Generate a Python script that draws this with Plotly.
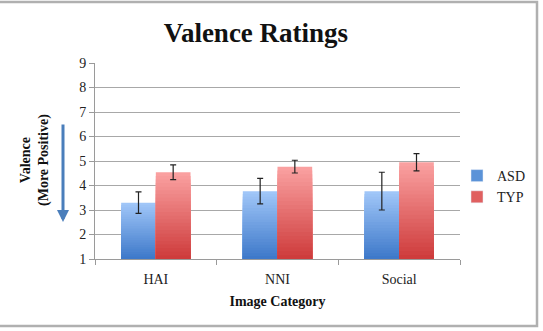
import plotly.graph_objects as go

categories = ["HAI", "NNI", "Social"]
asd_values = [3.30, 3.77, 3.77]
asd_err = [0.44, 0.52, 0.77]
typ_values = [4.54, 4.77, 4.95]
typ_err = [0.30, 0.26, 0.35]
y_ticks = [1, 2, 3, 4, 5, 6, 7, 8, 9]

W, H = 543, 331
L, R, T, B = 95, 460, 63, 259  # plot area pixels


def px_x(p):
    return (p - L) / (R - L)


def px_y(p):
    return (B - p) / (B - T)


def lerp(c1, c2, t):
    return "rgb(%d,%d,%d)" % tuple(round(a + (b - a) * t) for a, b in zip(c1, c2))


BASE = 1
N = 24
series = [
    ("ASD", asd_values, asd_err, (160, 198, 248), (58, 118, 200), "#5b93d8"),
    ("TYP", typ_values, typ_err, (250, 160, 160), (204, 56, 56), "#e06060"),
]

fig = go.Figure()
for name, vals, errs, ctop, cbot, legc in series:
    for i in range(N):
        frac = (N - i) / N
        t = 1 - frac
        fig.add_trace(go.Bar(
            x=categories, y=[(v - BASE) * frac for v in vals], base=BASE,
            offsetgroup=name, marker=dict(color=lerp(ctop, cbot, t), line=dict(width=0)),
            showlegend=False, hoverinfo="skip",
        ))
    fig.add_trace(go.Bar(
        x=categories, y=[v - BASE for v in vals], base=BASE, offsetgroup=name,
        name=name, marker=dict(color="rgba(0,0,0,0)", line=dict(width=0)),
        error_y=dict(type="data", array=errs, color="#222222", thickness=1.2, width=3),
        showlegend=False,
    ))
    fig.add_trace(go.Bar(
        x=[None], y=[None], name=name, marker=dict(color=legc), showlegend=True,
    ))

serif = "Liberation Serif"
fig.update_layout(
    width=W, height=H,
    margin=dict(l=L, r=W - R, t=T, b=H - B, autoexpand=False),
    paper_bgcolor="white", plot_bgcolor="white",
    barmode="group", bargap=0.43, bargroupgap=0,
    font=dict(family=serif, size=13, color="#222222"),
    title=dict(text="<b>Valence Ratings</b>", font=dict(family=serif, size=27, color="#111111"),
               x=256 / W, xanchor="center", y=1 - 33 / H, yanchor="middle", yref="container"),
    legend=dict(x=px_x(457), y=px_y(160), xanchor="left", yanchor="top",
                font=dict(family=serif, size=14, color="#222222"),
                itemwidth=30, tracegroupgap=7, bgcolor="rgba(0,0,0,0)"),
    showlegend=True,
)
fig.update_xaxes(
    showgrid=False, showline=True, linecolor="#9a9a9a", linewidth=1,
    ticks="outside", tickson="boundaries", ticklen=5, tickcolor="#9a9a9a",
    ticklabelstandoff=7,
    tickfont=dict(family=serif, size=14, color="#222222"),
    title=dict(text="<b>Image Category</b>", font=dict(family=serif, size=14, color="#111111"), standoff=10),
)
fig.update_yaxes(
    range=[1, 9], tickvals=y_ticks, showgrid=True, gridcolor="#a8a8a8", gridwidth=1,
    showline=True, linecolor="#9a9a9a", linewidth=1, zeroline=False,
    ticks="outside", ticklen=5, tickcolor="#9a9a9a",
    tickfont=dict(family=serif, size=14, color="#222222"),
)

fig.add_annotation(text="<b>Valence<br>(More Positive)</b>", xref="paper", yref="paper",
                   x=px_x(35), y=px_y(160), xanchor="center", yanchor="middle",
                   textangle=-90, showarrow=False,
                   font=dict(family=serif, size=14, color="#111111"), align="center")
fig.add_annotation(x=px_x(63), y=px_y(222), xref="paper", yref="paper",
                   ax=0, ay=-99, showarrow=True, arrowhead=2, arrowsize=0.8,
                   arrowwidth=3, arrowcolor="#4a7ebb", text="")
fig.add_shape(type="rect", xref="paper", yref="paper",
              x0=px_x(-10), x1=px_x(537), y0=px_y(326), y1=px_y(2),
              line=dict(color="#b0b0b0", width=2.5), fillcolor="rgba(0,0,0,0)", layer="below")

fig.write_html("out.html")
